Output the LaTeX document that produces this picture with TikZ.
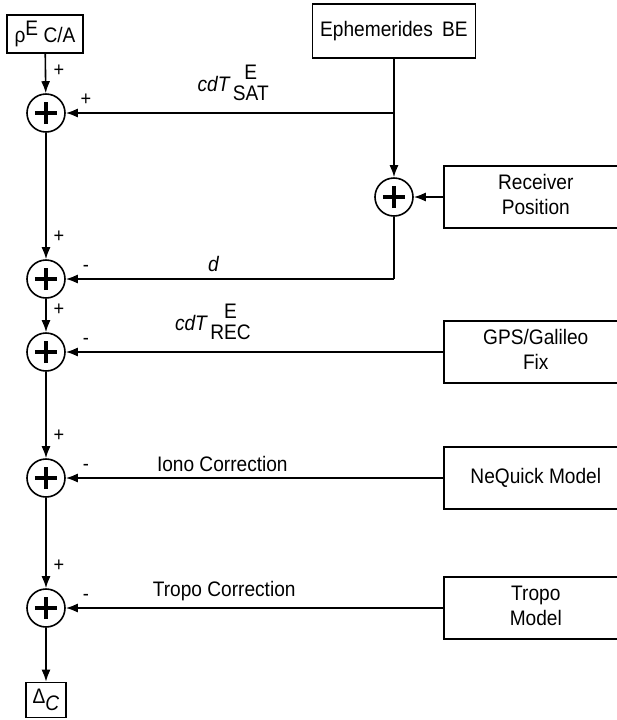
\documentclass[tikz,border=0pt]{standalone}
\usepackage{fontspec}
\setmainfont{Liberation Sans}[FakeStretch=0.91]
\usepackage{amsmath}
\usetikzlibrary{arrows.meta}

\newcommand{\supsub}[2]{{\renewcommand{\arraystretch}{0.8}\begin{tabular}{@{}c@{}}#1\\#2\end{tabular}}}
% text of the right-hand boxes, kept left of the box centre (the boxes run off the page)
\newcommand{\boxtext}[1]{\hspace*{-48pt}{\begin{tabular}{@{}c@{}}#1\end{tabular}}}

\begin{document}
\begin{tikzpicture}[
  x=0.5pt, y=-0.5pt,
  blk/.style = {rectangle, draw, thick, align=center, inner sep=3pt,
                font=\fontsize{10.5}{12.5}\selectfont},
  corr/.style= {blk, anchor=west, minimum width=140pt, minimum height=31pt},
  sum/.style = {circle, draw, thick, minimum size=19pt, inner sep=0pt,
                path picture={
                  \draw[line width=1.7pt]
                    ([xshift=-5.5pt]path picture bounding box.center) --
                    ([xshift=5.5pt]path picture bounding box.center)
                    ([yshift=-5.5pt]path picture bounding box.center) --
                    ([yshift=5.5pt]path picture bounding box.center);}},
  sgn/.style = {font=\fontsize{10}{12}\selectfont, inner sep=1pt},
  lbl/.style = {above, inner sep=3pt, font=\fontsize{10.5}{12.5}\selectfont},
  arr/.style = {-{Latex[length=6pt,width=4.5pt]}, thick},
]
  \path[use as bounding box] (0,0) rectangle (617,720);
  \clip (0,0) rectangle (617,720);

  % Inputs
  \node[blk, minimum width=38pt, minimum height=15pt] (rho) at (45,34)
       {ρ\raisebox{0.6ex}{E} C/A};
  \node[blk, minimum width=81.5pt, minimum height=27pt] (eph) at (394,31)
       {Ephemerides\hspace{0.45em}BE};

  % Summing junctions
  \node[sum] (s1) at (46,113) {};
  \node[sum] (sr) at (394,197) {};
  \node[sum] (s2) at (46,279) {};
  \node[sum] (s3) at (46,352) {};
  \node[sum] (s4) at (46,478) {};
  \node[sum] (s5) at (46,608) {};

  % Correction sources
  \node[corr] (rcv) at (443,197) {\boxtext{Receiver\\Position}};
  \node[corr] (fix) at (443,352) {\boxtext{GPS/Galileo\\Fix}};
  \node[corr] (neq) at (443,478) {\boxtext{NeQuick Model}};
  \node[corr] (tro) at (443,608) {\boxtext{Tropo\\Model}};

  % Output
  \node[blk, minimum width=20pt, minimum height=17.5pt] (dlt) at (46,700)
       {Δ\raisebox{-0.6ex}{\itshape C}};

  \coordinate (j1) at (eph |- s1);
  \coordinate (c2) at (sr |- s2);

  % Main chain
  \draw[arr] (rho) -- (s1);
  \draw[arr] (s1) -- (s2);
  \draw[arr] (s2) -- (s3);
  \draw[arr] (s3) -- (s4);
  \draw[arr] (s4) -- (s5);
  \draw[arr] (s5) -- (dlt);

  % Side inputs
  \draw[thick] (eph) -- (j1);
  \draw[arr] (j1) -- node[lbl, pos=0.49] {{\itshape cdT}\,\supsub{E}{SAT}} (s1);
  \draw[arr] (j1) -- (sr);
  \draw[arr] (rcv) -- (sr);
  \draw[thick] (sr) -- (c2);
  \draw[arr] (c2) -- node[lbl, pos=0.55] {\itshape d} (s2);
  \draw[arr] (fix) -- node[lbl, pos=0.61] {{\itshape cdT}\,\supsub{E}{REC}} (s3);
  \draw[arr] (neq) -- node[lbl, pos=0.585] {Iono Correction} (s4);
  \draw[arr] (tro) -- node[lbl, pos=0.58] {Tropo Correction} (s5);

  % Signs
  \foreach \s in {s1,s2,s3,s4,s5}
    \node[sgn] (t\s) at ([xshift=6.5pt, yshift=21pt]\s.center) {+};
  \node[sgn] (rs1) at ([xshift=20pt, yshift=6.5pt]s1.center) {+};
  \foreach \s in {s2,s3,s4,s5}
    \node[sgn] (r\s) at ([xshift=20pt, yshift=5.5pt]\s.center) {-};
\end{tikzpicture}
\end{document}
